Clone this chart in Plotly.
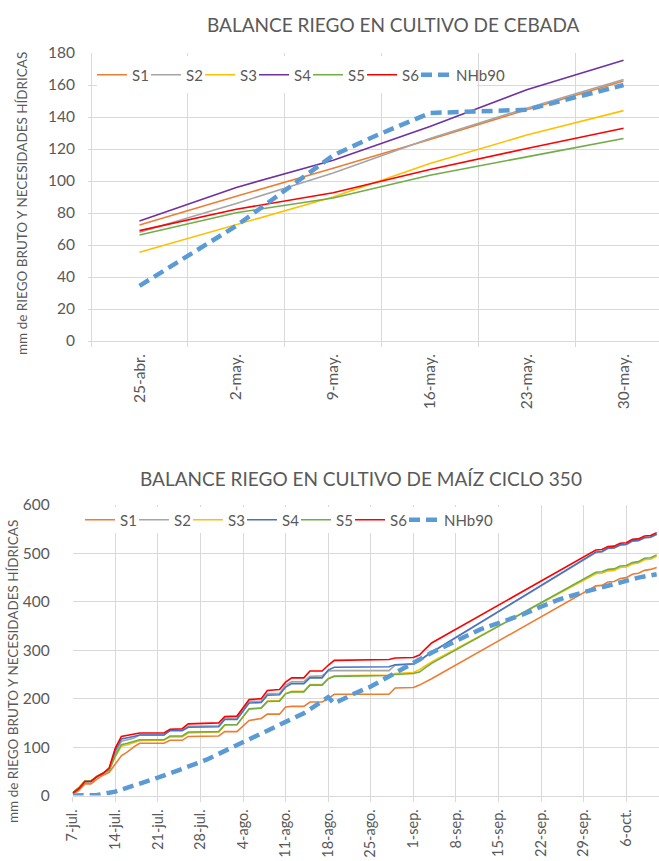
import pandas as pd
import plotly.graph_objects as go

W, H = 659, 861
TEXT = "#595959"
GRID = "#D9D9D9"
FONT = "Lato"

# ---------------- Chart 1: cebada ----------------
CEB_DATES = ["2019-04-25", "2019-05-02", "2019-05-09", "2019-05-16", "2019-05-23", "2019-05-30"]
CEB_TICKTEXT = ["25-abr.", "2-may.", "9-may.", "16-may.", "23-may.", "30-may."]
CEB_S1 = [72.5, 90.5, 108, 126, 144.5, 162.5]
CEB_S2 = [68, 86, 105, 126.5, 145.5, 163.5]
CEB_S3 = [55.5, 72.8, 90, 111, 128.7, 144]
CEB_S4 = [75, 96, 113, 134, 157, 175.5]
CEB_S5 = [66.3, 80.2, 89.4, 103.6, 115.1, 126.6]
CEB_S6 = [69, 82.3, 92.7, 107.2, 120.3, 133]
CEB_NHB_DATES = ["2019-04-25", "2019-05-02", "2019-05-09", "2019-05-12", "2019-05-16",
                 "2019-05-19", "2019-05-23", "2019-05-30"]
CEB_NHB = [34.5, 72, 116, 128, 142.5, 143.5, 144.5, 160]

# ---------------- Chart 2: maiz ----------------
MAIZ_START = "2019-07-07"
MAIZ_DAYS = [0, 1, 2, 3, 4, 5, 6, 7, 8, 9, 10, 11,
             15, 16, 18, 19, 24, 25, 27, 29, 31, 32, 34,
             35, 36, 38, 39, 41, 42, 43, 52, 53, 56, 57, 58, 59,
             86, 87, 88, 89, 90, 91, 92, 93, 94, 95, 96]
MAIZ_S1 = [3, 10, 24, 24, 34, 42, 48, 64, 82, 90, 100, 108,
           108, 114, 114, 122, 123, 132, 132, 155, 159, 168, 168,
           183, 184, 184, 193, 193, 200, 209, 209, 222, 223, 228, 235, 241,
           433, 434, 441, 442, 448, 450, 457, 459, 465, 467, 471]
MAIZ_S2 = [5, 14, 28, 29, 39, 45, 53, 88, 112, 115, 118, 125,
           125, 135, 135, 143, 144, 159, 160, 194, 195, 210, 211,
           228, 235, 235, 246, 247, 257, 258, 258, 269, 271, 277, 287, 295,
           502, 503, 510, 511, 517, 518, 525, 526, 532, 533, 539]
MAIZ_S3 = [6, 16, 30, 30, 40, 46, 53, 80, 102, 105, 109, 113,
           114, 121, 121, 129, 131, 145, 146, 178, 180, 195, 196,
           211, 215, 215, 229, 229, 242, 247, 249, 252, 254, 260, 268, 276,
           458, 459, 464, 465, 471, 472, 478, 480, 487, 488, 494]
MAIZ_S4 = [5, 14, 29, 29, 39, 46, 55, 93, 117, 119, 122, 125,
           125, 134, 134, 141, 142, 157, 157, 191, 192, 207, 208,
           224, 231, 231, 243, 243, 259, 265, 266, 270, 272, 278, 288, 296,
           503, 504, 511, 512, 518, 519, 526, 527, 533, 534, 540]
MAIZ_S5 = [6, 16, 30, 30, 40, 46, 52, 82, 105, 108, 111, 115,
           115, 123, 123, 131, 132, 146, 146, 179, 181, 194, 195,
           210, 214, 214, 228, 228, 241, 246, 248, 250, 252, 255, 264, 273,
           461, 462, 467, 468, 474, 475, 481, 483, 490, 491, 497]
MAIZ_S6 = [5, 14, 29, 29, 39, 46, 57, 98, 122, 124, 126, 129,
           129, 137, 138, 148, 150, 163, 164, 198, 200, 217, 219,
           234, 243, 243, 257, 257, 269, 279, 281, 284, 285, 290, 303, 315,
           507, 508, 514, 515, 521, 522, 529, 530, 536, 537, 543]
MAIZ_NHB_DAYS = [0, 4, 7, 10, 14, 18, 22, 26, 30, 34, 38, 42, 43, 46, 49, 53, 56, 59,
                 63, 67, 70, 74, 77, 80, 84, 87, 90, 93, 96]
MAIZ_NHB = [0, 1, 8, 20, 37, 55, 74, 98, 122, 145, 170, 203, 190, 209, 225, 253, 273, 295,
            319, 343, 356, 374, 390, 405, 420, 430, 441, 450, 457]
MAIZ_TICK_DAYS = [0, 7, 14, 21, 28, 35, 42, 49, 56, 63, 70, 77, 84, 91]
MAIZ_TICKTEXT = ["7-jul.", "14-jul.", "21-jul.", "28-jul.", "4-ago.", "11-ago.", "18-ago.",
                 "25-ago.", "1-sep.", "8-sep.", "15-sep.", "22-sep.", "29-sep.", "6-oct."]

NAMES = ["S1", "S2", "S3", "S4", "S5", "S6"]
CEB_COLORS = ["#ED7D31", "#A5A5A5", "#FFC000", "#7030A0", "#70AD47", "#FF0000"]
MAIZ_COLORS = ["#ED7D31", "#A5A5A5", "#FFC000", "#4472C4", "#70AD47", "#FF0000"]
NHB_COLOR = "#5B9BD5"

start = pd.Timestamp(MAIZ_START)
maiz_x = [start + pd.Timedelta(days=d) for d in MAIZ_DAYS]
maiz_nhb_x = [start + pd.Timedelta(days=d) for d in MAIZ_NHB_DAYS]
maiz_ticks = [start + pd.Timedelta(days=d) for d in MAIZ_TICK_DAYS]

fig = go.Figure()

for name, vals, col in zip(NAMES, [CEB_S1, CEB_S2, CEB_S3, CEB_S4, CEB_S5, CEB_S6], CEB_COLORS):
    fig.add_trace(go.Scatter(x=CEB_DATES, y=vals, name=name, mode="lines",
                             line=dict(color=col, width=1.6), xaxis="x", yaxis="y",
                             legend="legend"))
fig.add_trace(go.Scatter(x=CEB_NHB_DATES, y=CEB_NHB, name="NHb90", mode="lines",
                         line=dict(color=NHB_COLOR, width=4.5, dash="11px,6px"),
                         xaxis="x", yaxis="y", legend="legend"))
# empty legend spacer so the last legend label is not clipped
fig.add_trace(go.Scatter(x=[None], y=[None], name=" ", mode="lines", line=dict(width=0),
                         xaxis="x", yaxis="y", legend="legend", hoverinfo="skip"))

for name, vals, col in zip(NAMES, [MAIZ_S1, MAIZ_S2, MAIZ_S3, MAIZ_S4, MAIZ_S5, MAIZ_S6], MAIZ_COLORS):
    fig.add_trace(go.Scatter(x=maiz_x, y=vals, name=name, mode="lines",
                             line=dict(color=col, width=1.6), xaxis="x2", yaxis="y2",
                             legend="legend2"))
fig.add_trace(go.Scatter(x=maiz_nhb_x, y=MAIZ_NHB, name="NHb90", mode="lines",
                         line=dict(color=NHB_COLOR, width=4.5, dash="11px,6px"),
                         xaxis="x2", yaxis="y2", legend="legend2"))
fig.add_trace(go.Scatter(x=[None], y=[None], name=" ", mode="lines", line=dict(width=0),
                         xaxis="x2", yaxis="y2", legend="legend2", hoverinfo="skip"))

# pixel helpers
def fx(p):
    return p / W

def fy(p):
    return 1 - p / H

ceb0 = pd.Timestamp(CEB_DATES[0])
day_px_top = 13.83
ceb_left_px, ceb_first_px = 88, 139.5
ceb_range = [ceb0 - pd.Timedelta(days=(ceb_first_px - ceb_left_px) / day_px_top),
             ceb0 + pd.Timedelta(days=(W - ceb_first_px) / day_px_top)]
ceb_minor = [ceb0 + pd.Timedelta(days=3.5 + 7 * k) for k in range(-1, 6)]

maiz_left_px = 72.7
day_px_bot = 6.083
maiz_range = [start, start + pd.Timedelta(days=(W - maiz_left_px) / day_px_bot)]

top_y0, top_y1 = 341, 53
bot_y0, bot_y1 = 795.5, 505
top_upp = (top_y0 - top_y1) / 180.0
bot_upp = (bot_y0 - bot_y1) / 600.0

# white boxes behind the legends (between gridlines and traces)
leg_box_top = dict(type="rect", xref="x", yref="y", layer="between",
                   x0=ceb_range[0] + pd.Timedelta(days=(97 - ceb_left_px) / day_px_top),
                   x1=ceb_range[0] + pd.Timedelta(days=(477 - ceb_left_px) / day_px_top),
                   y0=(top_y0 - 93) / top_upp, y1=(top_y0 - 56) / top_upp,
                   fillcolor="white", line=dict(width=0))
leg_box_bot = dict(type="rect", xref="x2", yref="y2", layer="between",
                   x0=start + pd.Timedelta(days=(78 - maiz_left_px) / day_px_bot),
                   x1=start + pd.Timedelta(days=(512 - maiz_left_px) / day_px_bot),
                   y0=(bot_y0 - 533) / bot_upp, y1=(bot_y0 - 507) / bot_upp,
                   fillcolor="white", line=dict(width=0))

tickfont = dict(family=FONT, size=15.5, color=TEXT)
legfont = dict(family=FONT, size=15, color=TEXT)

fig.update_layout(
    width=W, height=H,
    margin=dict(l=0, r=0, t=0, b=0, autoexpand=False),
    paper_bgcolor="white", plot_bgcolor="white",
    font=dict(family=FONT, color=TEXT),
    shapes=[leg_box_top, leg_box_bot],
    xaxis=dict(domain=[fx(ceb_left_px), 1], type="date", range=ceb_range,
               tickmode="array", tickvals=CEB_DATES, ticktext=CEB_TICKTEXT,
               tickangle=-90, tickfont=tickfont, showgrid=False,
               showline=True, linecolor=GRID, linewidth=1, ticks="",
               ticklabelstandoff=6, automargin=False,
               minor=dict(tickmode="array", tickvals=ceb_minor, showgrid=True,
                          gridcolor=GRID, gridwidth=1, ticks="outside", ticklen=5,
                          tickcolor=GRID),
               anchor="y", fixedrange=True),
    yaxis=dict(domain=[fy(top_y0), fy(top_y1)], range=[0, 180], dtick=20, tick0=0,
               tickfont=tickfont, showgrid=True, gridcolor=GRID, gridwidth=1,
               zeroline=False, showline=False, ticks="", ticklabelstandoff=12,
               automargin=False, anchor="x", fixedrange=True),
    xaxis2=dict(domain=[fx(maiz_left_px), 1], type="date", range=maiz_range,
                tickmode="array", tickvals=maiz_ticks, ticktext=MAIZ_TICKTEXT,
                tickangle=-90, tickfont=dict(family=FONT, size=14.5, color=TEXT),
                showgrid=True, gridcolor=GRID, gridwidth=1,
                showline=True, linecolor=GRID, linewidth=1,
                ticks="outside", ticklen=5, tickcolor=GRID, ticklabelstandoff=2,
                automargin=False, anchor="y2", fixedrange=True),
    yaxis2=dict(domain=[fy(bot_y0), fy(bot_y1)], range=[0, 600], dtick=100, tick0=0,
                tickfont=tickfont, showgrid=True, gridcolor=GRID, gridwidth=1,
                zeroline=False, showline=False, ticks="", ticklabelstandoff=22,
                automargin=False, anchor="x2", fixedrange=True),
    legend=dict(orientation="h", x=fx(92), y=fy(75), xanchor="left", yanchor="middle",
                bgcolor="rgba(0,0,0,0)", borderwidth=0, font=legfont,
                itemwidth=30, tracegroupgap=0, entrywidth=9, entrywidthmode="pixels"),
    legend2=dict(orientation="h", x=fx(80), y=fy(520), xanchor="left", yanchor="middle",
                 bgcolor="rgba(0,0,0,0)", borderwidth=0, font=legfont,
                 itemwidth=30, tracegroupgap=0, entrywidth=9, entrywidthmode="pixels"),
    showlegend=True,
    annotations=[
        dict(text="BALANCE RIEGO EN CULTIVO DE CEBADA", x=fx(393), y=fy(25),
             xref="paper", yref="paper", xanchor="center", yanchor="middle",
             showarrow=False, font=dict(family=FONT, size=19, color=TEXT)),
        dict(text="BALANCE RIEGO EN CULTIVO DE MAÍZ CICLO 350", x=fx(361), y=fy(478),
             xref="paper", yref="paper", xanchor="center", yanchor="middle",
             showarrow=False, font=dict(family=FONT, size=19, color=TEXT)),
        dict(text="mm de RIEGO BRUTO Y NECESIDADES HÍDRICAS", x=fx(22), y=fy(204),
             xref="paper", yref="paper", xanchor="center", yanchor="middle",
             textangle=-90, showarrow=False, font=dict(family=FONT, size=13.5, color=TEXT)),
        dict(text="mm de RIEGO BRUTO Y NECESIDADES HÍDRICAS", x=fx(13), y=fy(672),
             xref="paper", yref="paper", xanchor="center", yanchor="middle",
             textangle=-90, showarrow=False, font=dict(family=FONT, size=13.5, color=TEXT)),
    ],
)

fig.write_html("out.html")
